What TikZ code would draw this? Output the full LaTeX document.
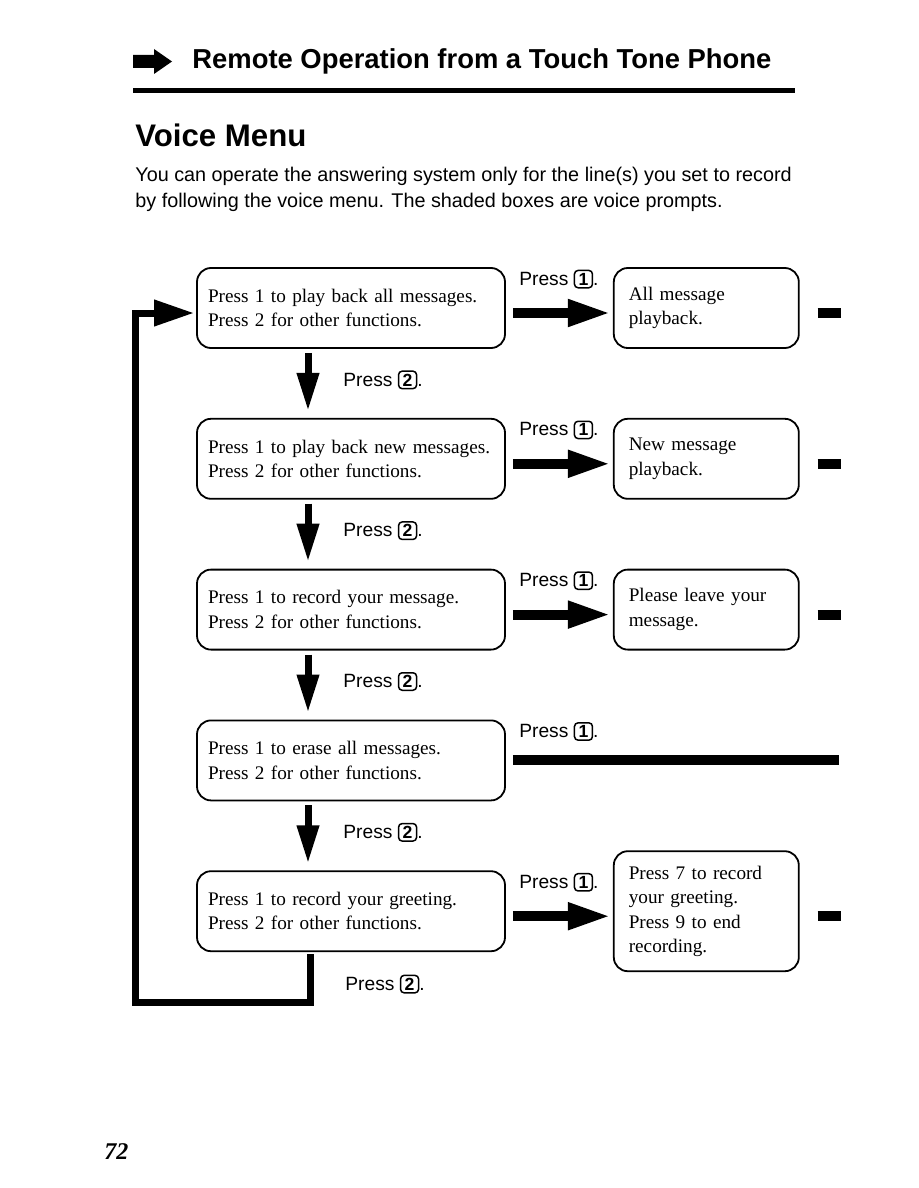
\documentclass[tikz,border=0pt]{standalone}
\usepackage{fontspec}
\setmainfont{Liberation Serif}
\setsansfont{Liberation Sans}
\usetikzlibrary{arrows.meta, positioning}
\hyphenpenalty=10000
\tikzset{
	prompt/.style   ={rectangle, rounded corners=7pt, draw=black, line width=0.9pt, minimum width=154pt, minimum height=40pt, text width=143pt, inner xsep=5.5pt, align=left, font=\fontsize{9.6}{12.25}\selectfont},
	result/.style   ={prompt, minimum width=92.5pt, text width=77.5pt, inner xsep=7.5pt},
	pressnote/.style={anchor=west, inner sep=3pt, font=\sffamily\fontsize{9.6}{11}\selectfont},
	% fat arrows of the menu
	hop/.style      ={line width=5pt, -{Triangle[length=21.5pt, width=12.5pt]}},
	drop/.style     ={line width=3.5pt, -{Triangle[length=19pt, width=10.5pt]}},
	stub/.style     ={line width=5pt},
	backloop/.style ={line width=3.5pt, line join=miter, -{Triangle[length=20pt, width=12.5pt]}},
}
\newcommand{\keycap}[1]{\tikz[baseline=(kc.base)]\node[draw, line width=0.75pt, rounded corners=1.8pt, inner xsep=1.3pt, inner ysep=1.3pt, minimum width=9pt, font=\sffamily\bfseries\fontsize{8.8}{10}\selectfont] (kc) {#1};}

\begin{document}
\begin{tikzpicture}[x=0.5pt, y=-0.5pt]
	\useasboundingbox (0,0) rectangle (918,1188);
	% heading
	\fill (133,55) -- (154,55) -- (154,49) -- (172,61.5) -- (154,74) -- (154,68) -- (133,68) -- cycle;
	\node[anchor=west, inner sep=0pt, font=\sffamily\bfseries\fontsize{13.7}{16}\selectfont] (title) at (192,61) {Remote Operation from a Touch Tone Phone};
	\fill (133,88.5) rectangle (795,93.5);
	\node[anchor=west, inner sep=0pt, font=\sffamily\bfseries\fontsize{15.6}{18}\selectfont] (head) at (135,135) {Voice Menu};
	\node[anchor=west, inner sep=0pt, align=left, font=\sffamily\fontsize{9.9}{13}\selectfont] (intro) at (135,189) {You can operate the answering system only for the line(s) you set to record\\by following the voice menu. The shaded boxes are voice prompts.};
	% menu prompts
	\node[prompt] (m1) at (351,308) {Press 1 to play back all messages.\\Press 2 for other functions.};
	\node[prompt, below=34.5pt of m1] (m2) {Press 1 to play back new messages.\\Press 2 for other functions.};
	\node[prompt, below=34.5pt of m2] (m3) {Press 1 to record your message.\\Press 2 for other functions.};
	\node[prompt, below=34.5pt of m3] (m4) {Press 1 to erase all messages.\\Press 2 for other functions.};
	\node[prompt, below=34.5pt of m4] (m5) {Press 1 to record your greeting.\\Press 2 for other functions.};
	% what key 1 gives
	\node[result, right=53.5pt of m1] (r1) {All message\\playback.};
	\node[result, right=53.5pt of m2] (r2) {New message\\playback.};
	\node[result, right=53.5pt of m3] (r3) {Please leave your\\message.};
	\node[result, right=53.5pt of m5, minimum height=60pt] (r5) {Press 7 to record\\your greeting.\\Press 9 to end\\recording.};
	\foreach \a/\b in {m1/r1, m2/r2, m3/r3, m5/r5} {
		\node[pressnote] (p1\a) at ([shift={(7,12)}]\a.north east) {Press \keycap{1}.};
		\draw[hop] ([shift={(7,5)}]\a.east) -- ([shift={(-2,5)}]\b.west);
		\draw[stub] ([shift={(18,5)}]\b.east) -- ([shift={(41,5)}]\b.east);
	}
	\node[pressnote] (p1m4) at ([shift={(7,12)}]m4.north east) {Press \keycap{1}.};
	\draw[stub] ([shift={(7,0)}]m4.east) -- ([shift={(333,0)}]m4.east);
	% what key 2 gives
	\foreach \a/\b in {m1/m2, m2/m3, m3/m4, m4/m5} {
		\draw[drop] ([shift={(-43,4)}]\a.south) -- ([shift={(-43,-7)}]\b.north);
		\node[pressnote] (p2\a) at ([shift={(-14,31)}]\a.south) {Press \keycap{2}.};
	}
	\node[pressnote] (p2m5) at ([shift={(-12,32)}]m5.south) {Press \keycap{2}.};
	\coordinate (turn) at (135,1002);
	\draw[backloop] ([shift={(-41,2)}]m5.south) |- (turn) |- ([shift={(-2,5)}]m1.west);
	\node[anchor=west, inner sep=0pt, font=\bfseries\itshape\fontsize{12}{14}\selectfont] (page) at (104,1152) {72};
\end{tikzpicture}
\end{document}
